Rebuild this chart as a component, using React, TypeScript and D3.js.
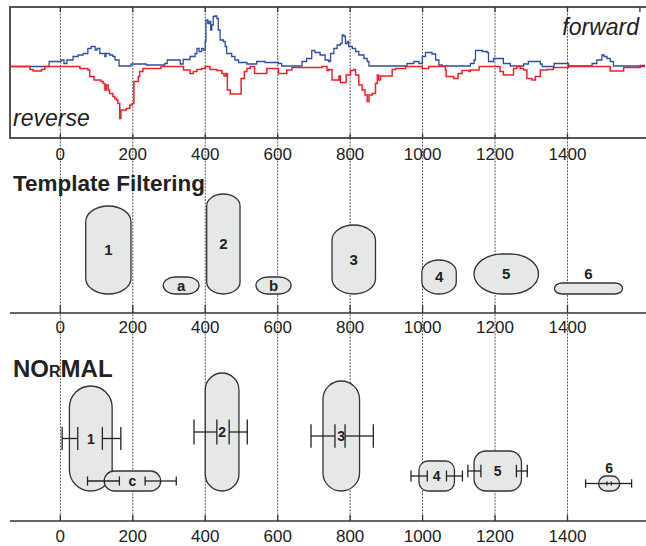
import React from "react";
import * as d3 from "d3";

// coverage traces: [position, signal]
const forward: [number, number][] = [
  [-140, 0], [-31, 5], [2, 6.5], [10, 3], [18, 6.5], [35, 10], [49, 11.5], [63, 13], [76, 18], [85, 20],
  [96, 16.5], [101, 18], [109, 13], [123, 10], [126, 13], [136, 11.5], [145, 10], [151, 6.5], [162, 0.5],
  [195, 2.5], [233, 2.5], [237, 1.5], [288, 3], [295, 6.5], [321, 6.5], [331, 2.5], [339, 7], [358, 10],
  [372, 13], [377, 18], [383, 15], [390, 18], [395, 16.5], [400, 25], [402, 46.5], [407, 43], [411, 45],
  [415, 36.5], [418, 41.5], [422, 50], [427, 50.5], [432, 48], [436, 36.5], [441, 26.5], [450, 25],
  [455, 20], [459, 13], [473, 10], [482, 6.5], [492, 4], [515, 2.5], [542, 5], [565, 4], [602, 3],
  [611, 0.5], [667, 5], [680, 8], [694, 16], [703, 14], [717, 11.5], [731, 6.5], [741, 5], [746, 13],
  [755, 18], [764, 21.5], [773, 23], [778, 31.5], [783, 30], [787, 23], [792, 25], [796, 20], [806, 18],
  [815, 15], [824, 11.5], [838, 8], [847, 5], [852, 0.5], [953, 0.5], [957, 3], [976, 5], [990, 3],
  [999, 10], [1008, 14], [1026, 12.5], [1036, 6.5], [1045, 1.5], [1054, 0.5], [1132, 3], [1142, 6.5],
  [1146, 16], [1165, 15], [1178, 14], [1182, 5], [1196, 8], [1214, 8], [1223, 3], [1242, 0.5],
  [1279, 2.5], [1292, 5], [1320, 5], [1325, 2.5], [1330, 0], [1363, 3], [1400, 3], [1403, 0.5],
  [1463, 0.5], [1468, 3], [1481, 6.5], [1495, 11.5], [1501, 10], [1509, 8], [1518, 5], [1527, 0.5],
  [1601, 1], [1614, 1],
];

const reverse: [number, number][] = [
  [-140, 0], [-89, 0], [-84, -3], [-75, -4.5], [-52, -3], [-43, 0], [49, 0], [54, -2], [76, -3.5],
  [81, -10], [93, -13.5], [104, -13.5], [112, -15], [118, -17], [123, -23.5], [127, -18.5], [132, -23.5],
  [136, -27], [145, -30], [150, -32], [155, -33.5], [159, -37], [164, -52], [167, -43.5], [173, -43.5],
  [182, -42], [192, -38.5], [198, -37], [203, -15], [215, -10], [219, -5], [228, -2], [278, 0],
  [340, -3.5], [358, -7], [367, -5], [377, -3], [390, -2], [400, 0], [413, -3], [432, -4], [446, -7],
  [452, -9.5], [457, -7], [461, -23.5], [469, -27.5], [499, -12], [508, -5], [515, -2], [524, 0],
  [536, -7], [570, -2], [602, -7], [625, -3.5], [639, -1], [722, 0], [736, -4], [741, -3], [750, -13.5],
  [769, -9.5], [773, -16], [789, -8.5], [801, -4], [810, -3], [815, -8.5], [824, -18.5], [833, -23.5],
  [841, -28.5], [847, -35], [852, -28.5], [861, -27], [870, -17], [875, -8.5], [879, -13.5], [884, -9.5],
  [916, -3], [925, -2], [953, 0], [999, -2], [1017, 0], [1063, -3.5], [1065, -10], [1086, -12],
  [1098, -7], [1109, -4], [1128, -5], [1132, -3.5], [1156, 0], [1214, -5], [1223, -8.5], [1251, -2],
  [1260, 0], [1270, -2], [1279, -3.5], [1288, -12], [1302, -13.5], [1311, -10], [1325, -3.5],
  [1343, -3], [1361, -1], [1403, 0], [1518, -4.5], [1555, -1], [1601, 0], [1614, 0],
];

const ticks = [0, 200, 400, 600, 800, 1000, 1200, 1400];

// Template Filtering regions
const tfNames = ["1", "a", "2", "b", "3", "4", "5", "6"];
const tfStart = [70, 284, 404, 540, 750, 998, 1142, 1364];
const tfEnd = [195, 383, 496, 637, 870, 1093, 1320, 1552];
const tfHeight = [88, 17, 100, 17, 69, 34, 40, 11];

// NORMAL regions, error bars: [outer lo, inner lo, inner hi, outer hi]
const nmNames = ["1", "c", "2", "3", "4", "5", "6"];
const nmStart = [25, 121, 400, 725, 990, 1142, 1486];
const nmEnd = [143, 277, 493, 826, 1088, 1273, 1544];
const nmHeight = [105, 20, 118, 110, 30, 40, 15];
const nmErr = [
  [5, 48, 116, 167],
  [75, 163, 234, 320],
  [369, 432, 466, 516],
  [692, 758, 786, 864],
  [968, 1013, 1066, 1110],
  [1125, 1161, 1259, 1289],
  [1450, 1509, 1521, 1577],
];

const font = "'Liberation Sans', Arial, Helvetica, sans-serif";
const ink = "#222";

export default function App() {
  const W = 646, H = 546;
  const x = d3.scaleLinear().domain([-139, 1614]).range([10, 645]);
  const yTop = d3.scaleLinear().domain([-71.5, 59.5]).range([138, 7]);
  const yMid = d3.scaleLinear().domain([0, 100]).range([294, 194]);
  const yBot = d3.scaleLinear().domain([0, 100]).range([491, 391]);

  const line = d3.line<[number, number]>()
    .x(d => x(d[0]))
    .y(d => yTop(d[1]))
    .curve(d3.curveStepAfter);

  const axisTicks = (y0: number, len: number) =>
    ticks.map(t => <line key={t} x1={x(t)} x2={x(t)} y1={y0} y2={y0 - len} stroke="#333" strokeWidth={1.3} />);

  const labels = (yb: number) =>
    ticks.map(t => (
      <text key={t} x={x(t)} y={yb} textAnchor="middle" fontSize={17} fill={ink}>{t}</text>
    ));

  return (
    <svg width={W} height={H} style={{ position: "absolute", left: 0, top: 0, background: "#fff" }} fontFamily={font}>
      {/* grid */}
      {ticks.map(t => (
        <line key={t} x1={x(t)} x2={x(t)} y1={7} y2={521} stroke="#555" strokeWidth={1} strokeDasharray="2,1.2" />
      ))}

      {/* top panel */}
      <path d={line(forward) || ""} fill="none" stroke="#2d4ea3" strokeWidth={1.3} />
      <path d={line(reverse) || ""} fill="none" stroke="#f0202a" strokeWidth={1.5} />
      <path d={`M${W},7H10V138H${W}`} fill="none" stroke="#555" strokeWidth={2} />
      {axisTicks(138, 4)}
      {[...ticks, 1600].map(t => (
        <line key={"tt" + t} x1={x(t)} x2={x(t)} y1={7} y2={12} stroke="#333" strokeWidth={1.3} />
      ))}
      <text x={639} y={35} textAnchor="end" fontSize={23} fontStyle="italic" fill={ink}>forward</text>
      <text x={13} y={126} fontSize={23} fontStyle="italic" fill={ink}>reverse</text>
      {labels(160)}

      {/* Template Filtering */}
      <text x={13} y={191} fontSize={22.5} fontWeight="bold" fill={ink}>Template Filtering</text>
      {tfNames.map((n, i) => {
        const x0 = x(tfStart[i]), x1 = x(tfEnd[i]);
        const w = x1 - x0, h = yMid(0) - yMid(tfHeight[i]);
        const rx = Math.min(w / 2, h * 0.7), ry = Math.min(h / 2, w * 0.35);
        const cx = (x0 + x1) / 2;
        const cy = h < 16 ? yMid(tfHeight[i]) - 9 : yMid(tfHeight[i] / 2);
        return (
          <g key={n}>
            <rect x={x0} y={yMid(tfHeight[i])} width={w} height={h} rx={rx} ry={ry}
              fill="#e6e7e7" stroke="#333" strokeWidth={1.3} />
            <text x={cx} y={cy} dy="0.36em" textAnchor="middle" fontSize={15} fontWeight="bold" fill={ink}>{n}</text>
          </g>
        );
      })}
      <line x1={10} x2={W} y1={313} y2={313} stroke="#333" strokeWidth={1.5} />
      {axisTicks(313, 8)}
      {labels(333)}

      {/* NORMAL */}
      <text x={13} y={377} fontSize={24} fontWeight="bold" fill={ink}>
        NO<tspan fontSize={16}>R</tspan>MAL
      </text>
      {nmNames.map((n, i) => {
        const x0 = x(nmStart[i]), x1 = x(nmEnd[i]);
        const w = x1 - x0, h = yBot(0) - yBot(nmHeight[i]);
        const r = Math.min(w / 2, h < 25 ? h / 2 : h * 0.3);
        const cx = (x0 + x1) / 2;
        const yc = yBot(nmHeight[i] / 2);
        const above = h < 16;
        const cap = Math.min(13, 3 + h * 0.08);
        const [o0, i0, i1, o1] = nmErr[i].map(v => x(v));
        return (
          <g key={n}>
            <rect x={x0} y={yBot(nmHeight[i])} width={w} height={h} rx={r} ry={r}
              fill="#e6e7e7" stroke="#333" strokeWidth={1.3} />
            <g stroke={ink} strokeWidth={1.3}>
              <line x1={o0} x2={i0} y1={yc} y2={yc} />
              <line x1={i1} x2={o1} y1={yc} y2={yc} />
              {above && <line x1={i0} x2={i1} y1={yc} y2={yc} />}
              {[o0, o1].map((v, k) => <line key={"o" + k} x1={v} x2={v} y1={yc - cap} y2={yc + cap} />)}
              {[i0, i1].map((v, k) => (
                <line key={"i" + k} x1={v} x2={v} y1={yc - (above ? cap / 2 : cap)} y2={yc + (above ? cap / 2 : cap)} />
              ))}
            </g>
            <text x={cx} y={above ? yBot(nmHeight[i]) - 8 : yc} dy="0.36em" textAnchor="middle"
              fontSize={14} fontWeight="bold" fill={ink}>{n}</text>
          </g>
        );
      })}
      <line x1={10} x2={W} y1={521} y2={521} stroke="#333" strokeWidth={1.5} />
      {axisTicks(521, 6)}
      {labels(542)}
    </svg>
  );
}
